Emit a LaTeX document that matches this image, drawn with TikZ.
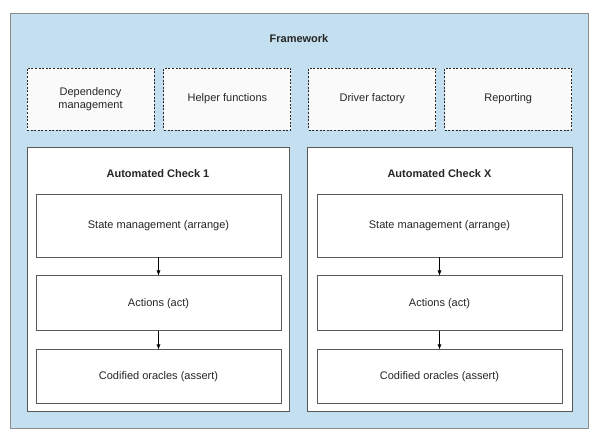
\documentclass[tikz,border=0pt]{standalone}
\usepackage{fontspec}
\setmainfont{Liberation Sans}
\usetikzlibrary{arrows.meta,positioning}
\definecolor{framebg}{HTML}{C4DFEF}
\definecolor{lineg}{HTML}{595959}
\tikzset{
  dashbox/.style={draw=black!85,dash pattern=on 2pt off 1.6pt,line width=0.9pt,fill=black!2,minimum width=127pt,minimum height=62pt,inner sep=2pt},
  checkbox/.style={draw=lineg,line width=1pt,fill=white,minimum width=262pt,minimum height=263pt},
  stepbox/.style={draw=lineg,line width=0.9pt,fill=white,minimum width=245pt,inner sep=2pt}
}
\begin{document}
\begin{tikzpicture}[x=1pt,y=-1pt,>={Latex[length=5pt,width=4pt]},every node/.style={font=\fontsize{11}{13}\selectfont,text=black!85,align=center}]
\useasboundingbox (0,0) rectangle (600,438);
\fill[white] (0,0) rectangle (600,438);
% outer framework
\node[draw=black!45,line width=1pt,fill=framebg,minimum width=578pt,minimum height=414pt] (frame) at (299,221) {};
\node[font=\fontsize{11}{13}\selectfont\bfseries] (fwtitle) at (299,39) {Framework};
% shared parts
\node[dashbox] (dep) at (90.5,99) {Dependency\\management};
\node[dashbox,right=9pt of dep] (help) {Helper functions};
\node[dashbox,right=17pt of help] (driver) {Driver factory};
\node[dashbox,right=8pt of driver] (report) {Reporting};
% check 1
\node[checkbox] (check1) at (158,279.5) {};
\node[font=\fontsize{11}{13}\selectfont\bfseries] (title1) at (158,174) {Automated Check 1};
\node[stepbox,minimum height=63pt] (arr1) at (158.5,225.5) {State management (arrange)};
\node[stepbox,minimum height=55pt,below=18pt of arr1] (act1) {Actions (act)};
\node[stepbox,minimum height=54pt,below=18pt of act1] (ass1) {Codified oracles (assert)};
\draw[->] (arr1) -- (act1);\draw[->] (act1) -- (ass1);
% check X
\node[checkbox,minimum width=265pt] (checkx) at (439.5,279.5) {};
\node[font=\fontsize{11}{13}\selectfont\bfseries] (titlex) at (439.5,174) {Automated Check X};
\node[stepbox,minimum height=63pt] (arrx) at (439.5,225.5) {State management (arrange)};
\node[stepbox,minimum height=55pt,below=18pt of arrx] (actx) {Actions (act)};
\node[stepbox,minimum height=54pt,below=18pt of actx] (assx) {Codified oracles (assert)};
\draw[->] (arrx) -- (actx);\draw[->] (actx) -- (assx);
\end{tikzpicture}
\end{document}
